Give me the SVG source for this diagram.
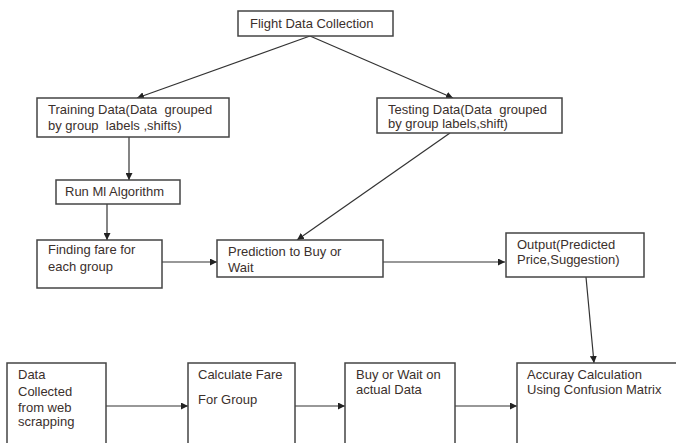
<svg xmlns="http://www.w3.org/2000/svg" width="676" height="443" viewBox="0 0 676 443">
<defs>
<marker id="ah" viewBox="0 0 10 10" refX="10" refY="5" markerWidth="7" markerHeight="7" orient="auto" markerUnits="userSpaceOnUse"><path d="M0,0 L10,5 L0,10 z" fill="#222"/></marker>
<style>
.box{fill:#fff;stroke:#444;stroke-width:1.5}
.t{font-family:"Liberation Sans",Arial,sans-serif;font-size:13px;fill:#3b302c}
.c{fill:none;stroke:#333;stroke-width:1.2;marker-end:url(#ah)}
</style>
</defs>
<rect width="676" height="443" fill="#fff"/>
<g id="connectors">
<path class="c" d="M310,36 L137,98"/>
<path class="c" d="M310,36 L453,98"/>
<path class="c" d="M129,135 L129,180"/>
<path class="c" d="M107,204 L107,240"/>
<path class="c" d="M162,262 L217,262"/>
<path class="c" d="M450,133 L297,240"/>
<path class="c" d="M383,262 L505,262"/>
<path class="c" d="M586,277 L594,363"/>
<path class="c" d="M106,406 L188,406"/>
<path class="c" d="M295,406 L345,406"/>
<path class="c" d="M455,406 L517,406"/>
</g>
<g id="flight"><rect class="box" x="238" y="11" width="155" height="25"/><text class="t" x="250" y="28">Flight Data Collection</text></g>
<g id="training"><rect class="box" x="37" y="98" width="192" height="39"/><text class="t" x="48" y="114" xml:space="preserve">Training Data(Data  grouped</text><text class="t" x="48" y="130" xml:space="preserve">by group  labels ,shifts)</text></g>
<g id="testing"><rect class="box" x="377" y="98" width="185" height="35"/><text class="t" x="388" y="114" xml:space="preserve">Testing Data(Data  grouped</text><text class="t" x="388" y="128">by group labels,shift)</text></g>
<g id="runml"><rect class="box" x="56" y="180" width="124" height="24"/><text class="t" x="65" y="196">Run Ml Algorithm</text></g>
<g id="finding"><rect class="box" x="37" y="240" width="125" height="48"/><text class="t" x="48" y="254">Finding fare for</text><text class="t" x="48" y="271">each group</text></g>
<g id="prediction"><rect class="box" x="217" y="240" width="166" height="37"/><text class="t" x="228" y="256">Prediction to Buy or</text><text class="t" x="228" y="272">Wait</text></g>
<g id="output"><rect class="box" x="506" y="233" width="138" height="44"/><text class="t" x="517" y="249">Output(Predicted</text><text class="t" x="517" y="264">Price,Suggestion)</text></g>
<g id="datacollected"><rect class="box" x="7" y="363" width="99" height="90"/><text class="t" x="18" y="379">Data</text><text class="t" x="18" y="396">Collected</text><text class="t" x="18" y="412">from web</text><text class="t" x="18" y="426">scrapping</text></g>
<g id="calculate"><rect class="box" x="188" y="363" width="107" height="90"/><text class="t" x="198" y="379">Calculate Fare</text><text class="t" x="198" y="404">For Group</text></g>
<g id="buywait"><rect class="box" x="345" y="363" width="110" height="90"/><text class="t" x="356" y="379">Buy or Wait on</text><text class="t" x="356" y="394">actual Data</text></g>
<g id="accuracy"><rect class="box" x="517" y="363" width="170" height="90"/><text class="t" x="527" y="379">Accuray Calculation</text><text class="t" x="527" y="394">Using Confusion Matrix</text></g>
</svg>
